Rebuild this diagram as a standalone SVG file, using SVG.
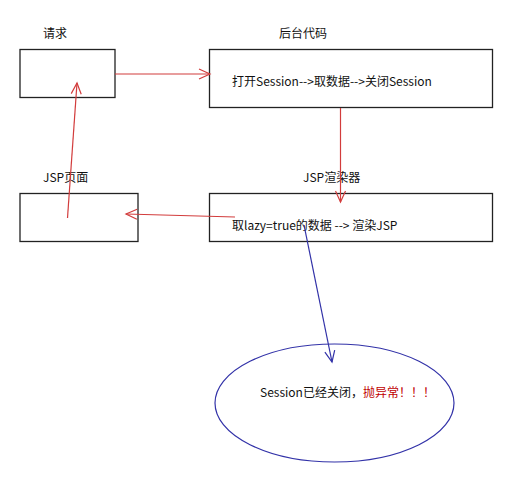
<svg xmlns="http://www.w3.org/2000/svg" width="531" height="495" viewBox="0 0 531 495">
<style>
.box{fill:#fff;stroke:#222;stroke-width:1.3}
.t{font-family:"Noto Sans CJK SC","Microsoft YaHei",sans-serif;font-size:12px;fill:#111}
.red{stroke:#d23c3c;stroke-width:1.2;fill:none}
.blue{stroke:#3232a8;stroke-width:1.2;fill:none}
</style>
<defs>
<marker id="ar" markerWidth="14" markerHeight="12" refX="12" refY="6" orient="auto" markerUnits="userSpaceOnUse"><path d="M1,1 L12,6 L1,11" fill="none" stroke="#d23c3c" stroke-width="1.2"/></marker>
<marker id="ab" markerWidth="14" markerHeight="12" refX="12" refY="6" orient="auto" markerUnits="userSpaceOnUse"><path d="M1,1 L12,6 L1,11" fill="none" stroke="#3232a8" stroke-width="1.2"/></marker>
</defs>
<rect width="531" height="495" fill="#fff"/>
<g id="request">
<text class="t" x="43" y="38">请求</text>
<rect class="box" x="20" y="49.5" width="95" height="48"/>
</g>
<g id="backend">
<text class="t" x="279" y="38">后台代码</text>
<rect class="box" x="209.5" y="49.5" width="283" height="58"/>
<text class="t" x="232" y="86">打开Session--&gt;取数据--&gt;关闭Session</text>
</g>
<g id="jsppage">
<text class="t" x="43" y="182">JSP页面</text>
<rect class="box" x="20" y="193.5" width="118" height="48"/>
</g>
<g id="renderer">
<text class="t" x="303" y="182">JSP渲染器</text>
<rect class="box" x="209.5" y="193.5" width="283" height="48"/>
<text class="t" x="232" y="230">取lazy=true的数据 --&gt; 渲染JSP</text>
</g>
<g id="error">
<ellipse cx="334.5" cy="403" rx="119.5" ry="59" fill="none" stroke="#3232a8" stroke-width="1.2"/>
<text class="t" x="260" y="397">Session已经关闭，<tspan fill="#c00000">抛异常！！！</tspan></text>
</g>
<g id="connectors">
<line class="red" x1="115" y1="74" x2="210" y2="74" marker-end="url(#ar)"/>
<line class="red" x1="340.5" y1="108" x2="340.5" y2="202" marker-end="url(#ar)"/>
<line class="red" x1="235" y1="217" x2="126" y2="214" marker-end="url(#ar)"/>
<line class="red" x1="67.5" y1="218" x2="77" y2="83" marker-end="url(#ar)"/>
<line class="blue" x1="304" y1="225" x2="332" y2="362" marker-end="url(#ab)"/>
</g>
</svg>
